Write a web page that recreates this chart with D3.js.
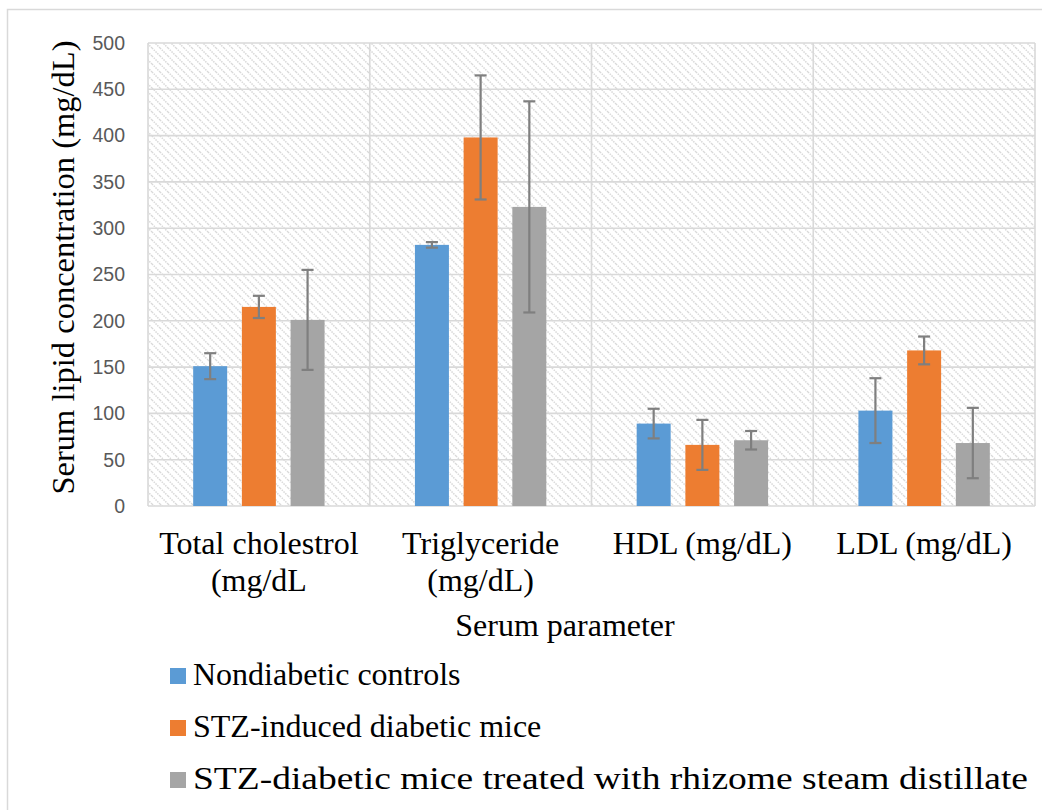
<!DOCTYPE html>
<html>
<head>
<meta charset="utf-8">
<script src="https://cdn.jsdelivr.net/npm/d3@7"></script>
<style>
  body { margin: 0; background: #fff; }
  svg { display: block; }
</style>
</head>
<body>
<div id="chart"></div>
<script>
// data
let categories = [["Total cholestrol", "(mg/dL"], ["Triglyceride", "(mg/dL)"], ["HDL (mg/dL)"], ["LDL (mg/dL)"]]
let seriesNames = ["Nondiabetic controls", "STZ-induced diabetic mice", "STZ-diabetic mice treated with rhizome steam distillate"]
let nondiabetic = [151, 282, 89, 103]
let nondiabeticErr = [14, 3, 16, 35]
let stzDiabetic = [215, 398, 66, 168]
let stzDiabeticErr = [12, 67, 27, 15]
let treated = [201, 323, 71, 68]
let treatedErr = [54, 114, 10, 38]
let yTicks = [0, 50, 100, 150, 200, 250, 300, 350, 400, 450, 500]

let colors = ["#5b9bd5", "#ed7d31", "#a5a5a5"]
let values = [nondiabetic, stzDiabetic, treated]
let errors = [nondiabeticErr, stzDiabeticErr, treatedErr]

let width = 1042, height = 810
let plot = { left: 148, right: 1035, top: 43, bottom: 506 }

let svg = d3.select("#chart")
    .append("svg")
    .attr("width", width)
    .attr("height", height)

// hatched plot background
let defs = svg.append("defs")
let pat = defs.append("pattern")
    .attr("id", "hatch")
    .attr("patternUnits", "userSpaceOnUse")
    .attr("width", 8)
    .attr("height", 8)
pat.append("path")
    .attr("d", "M0,0 L8,8 M-2,6 L2,10 M6,-2 L10,2")
    .style("stroke", "#d9d9d9")
    .style("stroke-width", 1.5)
    .style("stroke-dasharray", "1.5,1")

// outer frame
svg.append("rect")
    .attr("x", 7.5).attr("y", 9.5)
    .attr("width", width).attr("height", height)
    .style("fill", "none")
    .style("stroke", "#d9d9d9")
    .style("stroke-width", 1.5)

let x0 = d3.scaleBand()
    .domain(d3.range(categories.length))
    .range([plot.left, plot.right])

let groupW = 131.4
let x1 = d3.scaleBand()
    .domain(d3.range(seriesNames.length))
    .range([(x0.bandwidth() - groupW) / 2, (x0.bandwidth() + groupW) / 2])
    .paddingInner(0.302)

let y = d3.scaleLinear()
    .domain([0, 500])
    .range([plot.bottom, plot.top])

svg.append("rect")
    .attr("x", plot.left).attr("y", plot.top)
    .attr("width", plot.right - plot.left)
    .attr("height", plot.bottom - plot.top)
    .style("fill", "url(#hatch)")

// horizontal gridlines
svg.append("g")
    .selectAll("line")
    .data(yTicks)
    .enter().append("line")
    .attr("x1", plot.left).attr("x2", plot.right)
    .attr("y1", d => y(d)).attr("y2", d => y(d))
    .style("stroke", "#d9d9d9")
    .style("stroke-width", 1.6)

// vertical gridlines between categories
svg.append("g")
    .selectAll("line")
    .data(d3.range(categories.length + 1))
    .enter().append("line")
    .attr("x1", d => plot.left + d * x0.step())
    .attr("x2", d => plot.left + d * x0.step())
    .attr("y1", plot.top).attr("y2", plot.bottom)
    .style("stroke", "#d9d9d9")
    .style("stroke-width", 1.6)

// y tick labels
svg.append("g")
    .selectAll("text")
    .data(yTicks)
    .enter().append("text")
    .attr("x", 125)
    .attr("y", d => y(d))
    .attr("dy", "0.35em")
    .attr("text-anchor", "end")
    .style("font-family", "'Liberation Sans', Arial, sans-serif")
    .style("font-size", "19.5px")
    .style("fill", "#595959")
    .text(d => d)

// bars
let groups = svg.append("g")
    .selectAll("g")
    .data(categories)
    .enter().append("g")
    .attr("transform", (d, i) => `translate(${x0(i)},0)`)

groups.each(function (cat, ci) {
    let g = d3.select(this)
    seriesNames.forEach((s, si) => {
        let v = values[si][ci]
        let e = errors[si][ci]
        let bx = x1(si)
        g.append("rect")
            .attr("x", bx)
            .attr("y", y(v))
            .attr("width", x1.bandwidth())
            .attr("height", y(0) - y(v))
            .style("fill", colors[si])
        let cx = bx + x1.bandwidth() / 2
        let eb = g.append("g")
            .style("stroke", "#7f7f7f")
            .style("stroke-width", 2.2)
        eb.append("line")
            .attr("x1", cx).attr("x2", cx)
            .attr("y1", y(v + e)).attr("y2", y(v - e))
        eb.append("line")
            .attr("x1", cx - 6).attr("x2", cx + 6)
            .attr("y1", y(v + e)).attr("y2", y(v + e))
        eb.append("line")
            .attr("x1", cx - 6).attr("x2", cx + 6)
            .attr("y1", y(v - e)).attr("y2", y(v - e))
    })
})

// category labels
let serif = "'Liberation Serif', 'Times New Roman', serif"
groups.each(function (cat, ci) {
    let t = d3.select(this).append("text")
        .attr("text-anchor", "middle")
        .style("font-family", serif)
        .style("font-size", "32px")
        .style("fill", "#000")
    cat.forEach((line, li) => {
        t.append("tspan")
            .attr("x", x0.bandwidth() / 2)
            .attr("y", 554 + li * 37)
            .text(line)
    })
})

// axis titles
svg.append("text")
    .attr("x", width / 2 + 44)
    .attr("y", 636)
    .attr("text-anchor", "middle")
    .style("font-family", serif)
    .style("font-size", "32px")
    .text("Serum parameter")

svg.append("text")
    .attr("transform", `translate(74,${(plot.top + plot.bottom) / 2 - 7}) rotate(-90)`)
    .attr("text-anchor", "middle")
    .style("font-family", serif)
    .style("font-size", "32.5px")
    .text("Serum lipid concentration (mg/dL)")

// legend
let legend = svg.append("g")
    .selectAll("g")
    .data(seriesNames)
    .enter().append("g")
    .attr("transform", (d, i) => `translate(170,${685 + i * 52})`)

legend.append("rect")
    .attr("x", 0).attr("y", -17)
    .attr("width", 16).attr("height", 16)
    .style("fill", (d, i) => colors[i])

legend.append("text")
    .attr("x", 23)
    .attr("y", 0)
    .style("font-family", serif)
    .style("font-size", "32px")
    .each(function (d, i) {
        // the last entry is stretched out to the frame edge in the original
        if (i === 2) d3.select(this).attr("textLength", 835).attr("lengthAdjust", "spacingAndGlyphs")
    })
    .text(d => d)
</script>
</body>
</html>
